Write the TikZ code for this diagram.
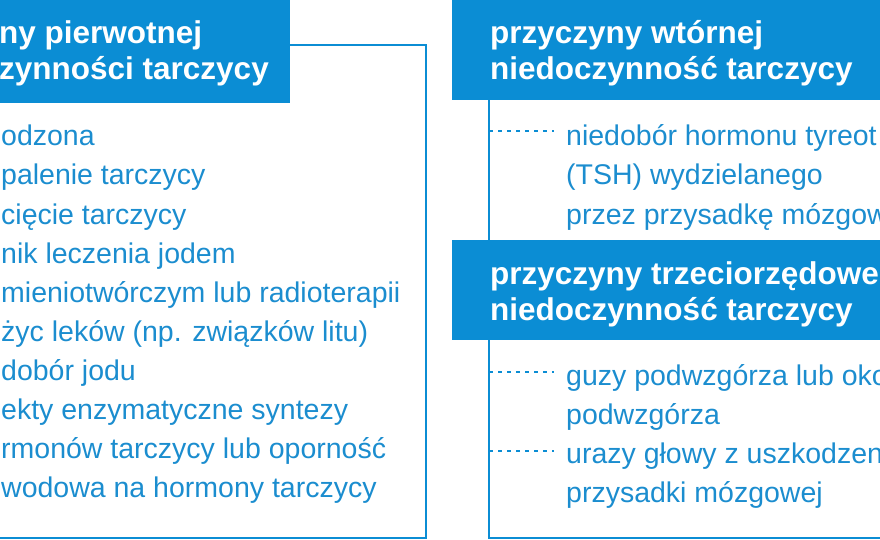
\documentclass[tikz,border=0pt]{standalone}
\usepackage{fontspec}
\setmainfont{Liberation Sans}
\definecolor{hb}{HTML}{0B8DD4}
\definecolor{tb}{HTML}{1B8DCF}
\begin{document}
\begin{tikzpicture}[x=1pt,y=-1pt,
  hdr/.style={fill=hb,draw=none},
  htxt/.style={anchor=base west,inner sep=0pt,text=white,font=\fontsize{31.5}{34}\selectfont\bfseries},
  itxt/.style={anchor=base west,inner sep=0pt,text=tb,font=\fontsize{28.5}{32}\selectfont},
  frame/.style={draw=hb,line width=2pt},
  dashline/.style={draw=hb,line width=1.2pt,dash pattern=on 4pt off 5pt}]
\useasboundingbox (0,0) rectangle (880,540);
\clip (0,0) rectangle (880,540);
% left
\draw[frame] (280,45) -- (426,45) -- (426,538) -- (0,538);
\fill[hdr] (-10,0) rectangle (290,103);
\node[htxt] (h1a) at (-1,44) {ny pierwotnej};
\node[htxt] (h1b) at (-1,80) {zynności tarczycy};
\foreach \t [count=\i] in {odzona,palenie tarczycy,cięcie tarczycy,nik leczenia jodem,mieniotwórczym lub radioterapii,{życ leków (np. związków litu)},dobór jodu,ekty enzymatyczne syntezy,rmonów tarczycy lub oporność,wodowa na hormony tarczycy}
  \node[itxt] (l\i) at (1,{136+39*(\i-1)+10}) {\t};
% right top
\draw[frame] (489,100) -- (489,240);
\fill[hdr] (452,0) rectangle (890,100);
\node[htxt] (h2a) at (490,44) {przyczyny wtórnej};
\node[htxt] (h2b) at (490,80) {niedoczynność tarczycy};
\coordinate (d1) at (489,131);
\node[itxt] (r1) at (566,146) {niedobór hormonu tyreot};
\node[itxt] (r2) at (566,185) {(TSH) wydzielanego};
\node[itxt] (r3) at (566,224) {przez przysadkę mózgow};
\draw[dashline] (d1) -- ([xshift=-12pt]r1.base west |- d1);
% right bottom
\draw[frame] (489,340) -- (489,538) -- (890,538);
\fill[hdr] (452,240) rectangle (890,340);
\node[htxt] (h3a) at (490,284) {przyczyny trzeciorzędowe};
\node[htxt] (h3b) at (490,320) {niedoczynność tarczycy};
\coordinate (d2) at (489,372);
\coordinate (d3) at (489,451);
\node[itxt] (s1) at (566,385) {guzy podwzgórza lub oko};
\node[itxt] (s2) at (566,424) {podwzgórza};
\node[itxt] (s3) at (566,463) {urazy głowy z uszkodzen};
\node[itxt] (s4) at (566,502) {przysadki mózgowej};
\draw[dashline] (d2) -- ([xshift=-12pt]s1.base west |- d2);
\draw[dashline] (d3) -- ([xshift=-12pt]s3.base west |- d3);
\end{tikzpicture}
\end{document}
